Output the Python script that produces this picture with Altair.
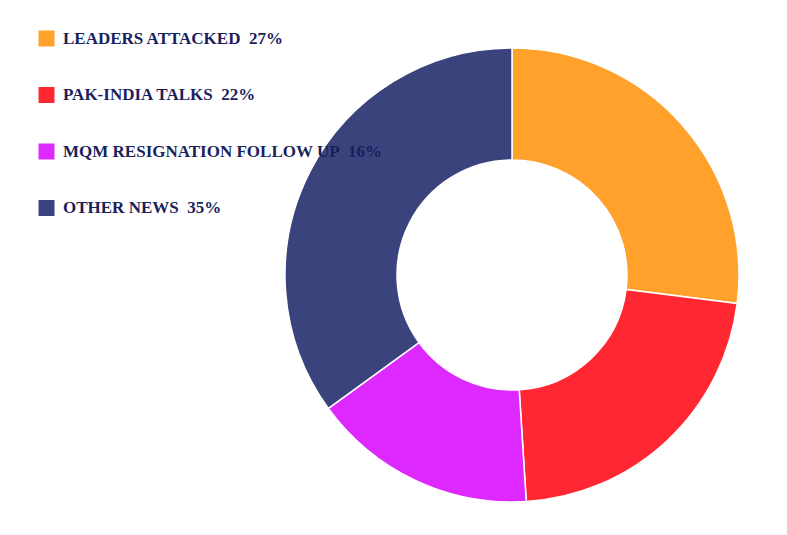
import altair as alt
import pandas as pd

categories = ["LEADERS ATTACKED", "PAK-INDIA TALKS", "MQM RESIGNATION FOLLOW UP", "OTHER NEWS"]
values = [27, 22, 16, 35]
colors = ["#FFA12A", "#FF2832", "#DD28FF", "#3A437C"]

labels = [f"{c}\u00a0\u00a0{v}%" for c, v in zip(categories, values)]
df = pd.DataFrame({"label": labels, "value": values, "order": list(range(len(values)))})

chart = alt.Chart(df).mark_arc(
    radius=227, innerRadius=115, stroke="white", strokeWidth=1.5
).encode(
    theta=alt.Theta("value:Q", stack=True),
    order=alt.Order("order:Q"),
    color=alt.Color(
        "label:N",
        scale=alt.Scale(domain=labels, range=colors),
        sort=labels,
        legend=alt.Legend(
            title=None,
            orient="none",
            legendX=38,
            legendY=30,
            symbolType="square",
            symbolSize=256,
            symbolStrokeWidth=0,
            labelFont="Liberation Serif",
            labelFontWeight="bold",
            labelFontSize=17,
            labelColor="#1B1F5C",
            labelOffset=8,
            rowPadding=38.5,
            labelLimit=400,
        ),
    ),
    x=alt.value(512),
    y=alt.value(275),
).properties(
    width=787, height=535, autosize="none", padding=0
).configure_view(stroke=None)

chart.save("out.html", embed_options={"renderer": "svg", "actions": False})
